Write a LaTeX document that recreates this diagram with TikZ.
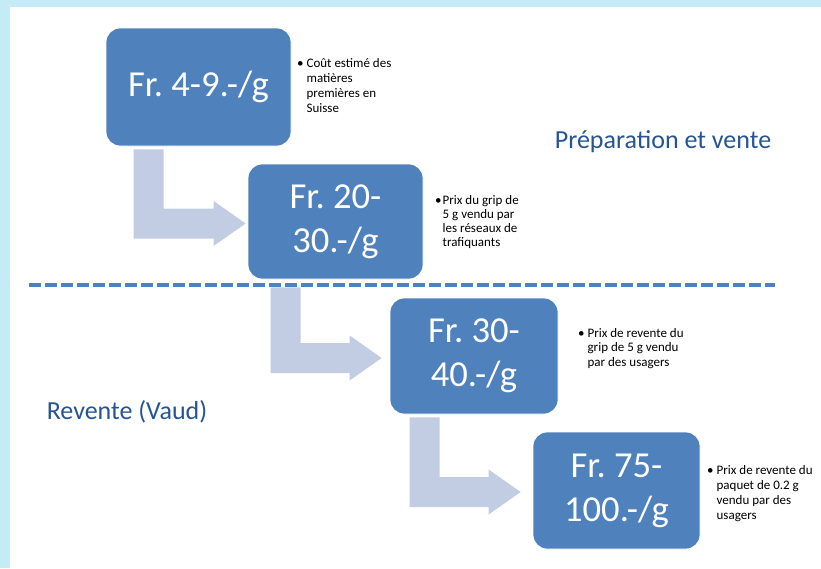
\documentclass[tikz,border=0pt]{standalone}
\usepackage{fontspec}
\setmainfont{Carlito}
\usetikzlibrary{calc}
\frenchspacing
\definecolor{boxblue}{RGB}{79,129,189}
\definecolor{arrowgray}{RGB}{194,205,227}
\definecolor{frameblue}{RGB}{197,236,246}
\definecolor{labelblue}{RGB}{38,84,148}
\newcommand{\bentarrow}[2]{%
  \fill[arrowgray] let \p1=(#1), \p2=(#2) in
    (\x1,\y1) -- (\x1+30pt,\y1) -- (\x1+30pt,\y2+15pt) -- (\x2-32pt,\y2+15pt)
    -- (\x2-32pt,\y2+22.5pt) -- (\x2,\y2) -- (\x2-32pt,\y2-22.5pt)
    -- (\x2-32pt,\y2-15pt) -- (\x1,\y2-15pt) -- cycle;}

\begin{document}
\begin{tikzpicture}[x=1pt,y=-1pt,
    pricebox/.style={fill=boxblue,draw=white,line width=0.8pt,rounded corners=14pt,
      text=white,font=\fontsize{36.6}{44}\selectfont,align=center,inner sep=0pt},
    note/.style={anchor=base west,inner sep=0pt,align=left},
    section/.style={text=labelblue,font=\fontsize{26}{31}\selectfont,inner sep=0pt}]
                \useasboundingbox (0,0) rectangle (821,568);
                \fill[frameblue] (0,0) rectangle (821,568);
                \fill[white] (10,7) rectangle (821,568);
                \node[pricebox,minimum width=185pt,minimum height=118pt] (box1) at (198.5,87) {Fr. 4-9.-/g};
                \node[pricebox,minimum width=175pt,minimum height=115pt] (box2) at (335.5,221.5) {Fr. 20-\\30.-/g};
                \node[pricebox,minimum width=168pt,minimum height=116pt] (box3) at (474,356) {Fr. 30-\\40.-/g};
                \node[pricebox,minimum width=167pt,minimum height=117pt] (box4) at (616.5,490.5) {Fr. 75-\\100.-/g};
                \node[note,font=\fontsize{13}{15}\selectfont] (note1) at (297,67)
                  {\textbullet\ \begin{tabular}[t]{@{}l@{}}Coût estimé des\\matières\\premières en\\Suisse\end{tabular}};
                \node[note,font=\fontsize{13}{14}\selectfont] (note2) at (435,204)
                  {\textbullet\hspace{1pt}\begin{tabular}[t]{@{}l@{}}Prix du grip de\\5 g vendu par\\les réseaux de\\trafiquants\end{tabular}};
                \node[note,font=\fontsize{13}{14.5}\selectfont] (note3) at (578,337)
                  {\textbullet\ \begin{tabular}[t]{@{}l@{}}Prix de revente du\\grip de 5 g vendu\\par des usagers\end{tabular}};
                \node[note,font=\fontsize{13}{15}\selectfont] (note4) at (707,474)
                  {\textbullet\ \begin{tabular}[t]{@{}l@{}}Prix de revente du\\paquet de 0.2 g\\vendu par des\\usagers\end{tabular}};
                \node[section] (prep) at (663,142) {Préparation et vente};
                \node[section] (revente) at (127,412) {Revente (Vaud)};
                \draw[boxblue,line width=4pt,dash pattern=on 12pt off 4pt] (29,285) -- (775,285);
                \coordinate (a1s) at ([shift={(28,3)}]box1.south west);
                \coordinate (a1t) at ([shift={(-2,2)}]box2.west);
                \coordinate (a2s) at ([shift={(23,8)}]box2.south west);
                \coordinate (a2t) at ([shift={(-8,2)}]box3.west);
                \coordinate (a3s) at ([shift={(20,3)}]box3.south west);
                \coordinate (a3t) at ([shift={(-12,1.5)}]box4.west);
                \bentarrow{a1s}{a1t}
                \bentarrow{a2s}{a2t}
                \bentarrow{a3s}{a3t}
\end{tikzpicture}
\end{document}
